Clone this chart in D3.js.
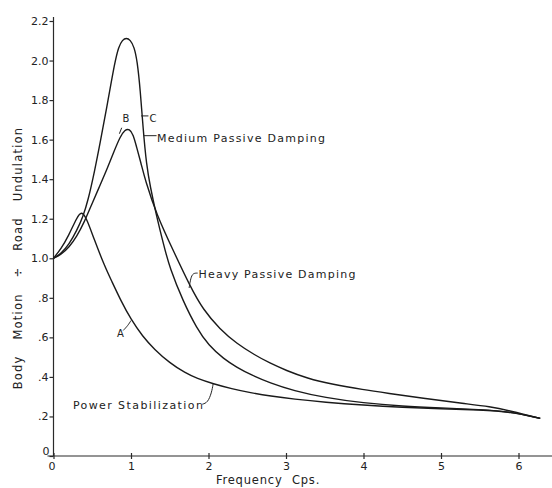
<!DOCTYPE html>
<html lang="en">
<head>
<meta charset="utf-8">
<title>Body Motion vs Frequency</title>
<script src="https://d3js.org/d3.v7.min.js"></script>
<style>
body { margin: 0; background: #fff; }
svg text { font-family: "DejaVu Sans", sans-serif; fill: #222; }
.axis path, .axis line { stroke: #2a2a2a; stroke-width: 1.2; }
.axis text { font-size: 11px; fill: #222; }
.curve { fill: none; stroke: #1a1a1a; stroke-width: 1.4; }
.lead { fill: none; stroke: #222; stroke-width: 1; }
</style>
</head>
<body>
<script>
// curve A - power stabilization
var freqA = [0, 0.1, 0.19, 0.3, 0.36, 0.43, 0.52, 0.66, 0.75, 0.87, 1.0, 1.15, 1.3, 1.5, 1.7, 1.85, 2.06, 2.3, 2.54, 2.8, 3.1, 3.5, 4.0, 4.5, 5.0, 5.5, 5.9, 6.28];
var valA  = [1.0, 1.05, 1.11, 1.205, 1.24, 1.2, 1.1, 0.96, 0.885, 0.785, 0.69, 0.605, 0.54, 0.47, 0.42, 0.392, 0.365, 0.34, 0.32, 0.303, 0.288, 0.272, 0.257, 0.246, 0.239, 0.233, 0.223, 0.19];
// curve B - heavy passive damping
var freqB = [0, 0.1, 0.2, 0.3, 0.4, 0.49, 0.59, 0.69, 0.78, 0.86, 0.92, 0.98, 1.03, 1.07, 1.13, 1.18, 1.33, 1.55, 1.76, 1.93, 2.15, 2.36, 2.6, 2.79, 3.0, 3.27, 3.6, 4.0, 4.3, 4.8, 5.3, 5.63, 5.9, 6.28];
var valB  = [1.0, 1.02, 1.055, 1.11, 1.185, 1.27, 1.36, 1.45, 1.54, 1.615, 1.65, 1.655, 1.625, 1.565, 1.48, 1.4, 1.22, 1.035, 0.86, 0.74, 0.64, 0.57, 0.51, 0.47, 0.433, 0.393, 0.362, 0.335, 0.318, 0.29, 0.265, 0.25, 0.228, 0.19];
// curve C - medium passive damping
var freqC = [0, 0.1, 0.2, 0.3, 0.38, 0.445, 0.535, 0.6, 0.7, 0.79, 0.84, 0.89, 0.94, 0.99, 1.04, 1.08, 1.12, 1.155, 1.2, 1.25, 1.32, 1.42, 1.5, 1.675, 1.85, 2.0, 2.2, 2.36, 2.55, 2.79, 3.1, 3.5, 4.0, 4.5, 5.0, 5.5, 5.9, 6.28];
var valC  = [1.0, 1.025, 1.07, 1.14, 1.21, 1.29, 1.45, 1.58, 1.79, 1.99, 2.07, 2.105, 2.115, 2.105, 2.07, 2.0, 1.85, 1.66, 1.47, 1.36, 1.23, 1.07, 0.95, 0.78, 0.645, 0.56, 0.49, 0.45, 0.41, 0.37, 0.33, 0.295, 0.268, 0.252, 0.243, 0.235, 0.225, 0.19];

var xTicks = [0, 1, 2, 3, 4, 5, 6];
var yTicks = [0, 0.2, 0.4, 0.6, 0.8, 1.0, 1.2, 1.4, 1.6, 1.8, 2.0, 2.2];
var yTickLabels = ["0", ".2", ".4", ".6", ".8", "1.0", "1.2", "1.4", "1.6", "1.8", "2.0", "2.2"];

var width = 552, height = 488;
var svg = d3.select("body").append("svg")
    .attr("width", width)
    .attr("height", height);

var x = d3.scaleLinear().domain([0, 6.4]).range([53.5, 549.5]);
var y = d3.scaleLinear().domain([0, 2.2]).range([456, 21]);

// axes
var xAxis = svg.append("g")
    .attr("class", "axis")
    .attr("transform", "translate(0," + y(0) + ")")
    .call(d3.axisBottom(x).tickValues(xTicks).tickSize(3).tickSizeOuter(0).tickFormat(d3.format("d")));
xAxis.select(".domain").attr("d", "M" + (x(0) - 6) + ",0H" + width);
xAxis.selectAll(".tick line").attr("y1", -3).attr("y2", 3);
xAxis.selectAll(".tick text").attr("dy", "0.55em").attr("y", 8);
xAxis.selectAll(".tick").filter(function(d) { return d === 0; }).select("text").attr("dx", "-2");

var yAxis = svg.append("g")
    .attr("class", "axis")
    .attr("transform", "translate(" + x(0) + ",0)")
    .call(d3.axisLeft(y).tickValues(yTicks).tickSize(4).tickSizeOuter(0)
        .tickFormat(function(d, i) { return yTickLabels[i]; }));
yAxis.select(".domain").attr("d", "M0," + y(0) + "V17");
yAxis.selectAll(".tick text").attr("x", -5);
yAxis.selectAll(".tick").filter(function(d) { return d === 0; }).select("text").attr("dy", "-0.1em").attr("x", -4);

// axis titles
svg.append("text")
    .attr("transform", "translate(22," + 258 + ") rotate(-90)")
    .attr("text-anchor", "middle")
    .style("font-size", "11.5px")
    .style("word-spacing", "11px")
    .style("letter-spacing", "1.2px")
    .text("Body Motion \u00f7 Road Undulation");

svg.append("text")
    .attr("x", 268)
    .attr("y", 484)
    .attr("text-anchor", "middle")
    .style("font-size", "11.5px")
    .style("word-spacing", "5px")
    .style("letter-spacing", "0.8px")
    .text("Frequency Cps.");

// curves - b-spline smooths out reading noise
var line = d3.line()
    .x(function(d) { return x(d[0]); })
    .y(function(d) { return y(d[1]); })
    .curve(d3.curveBasis);

[[freqA, valA], [freqB, valB], [freqC, valC]].forEach(function(s) {
    svg.append("path")
        .attr("class", "curve")
        .attr("d", line(d3.zip(s[0], s[1])));
});

// labels + leaders
function label(txt, fx, fy, len, size) {
    var t = svg.append("text")
        .attr("x", x(fx))
        .attr("y", y(fy))
        .style("font-size", (size || 11) + "px")
        .text(txt);
    if (len) t.attr("textLength", len).attr("lengthAdjust", "spacing");
}
function lead(pts) {
    svg.append("path")
        .attr("class", "lead")
        .attr("d", d3.line().x(function(d) { return x(d[0]); }).y(function(d) { return y(d[1]); })
            .curve(d3.curveBasis)(pts));
}

label("B", 0.89, 1.69, null, 10);
lead([[0.88, 1.66], [0.85, 1.63]]);
label("C", 1.24, 1.69, null, 10);
lead([[1.13, 1.72], [1.225, 1.72]]);

label("Medium Passive Damping", 1.335, 1.59, 168, 11);
lead([[1.16, 1.62], [1.33, 1.62]]);

label("Heavy Passive Damping", 1.87, 0.9, 157, 11);
lead([[1.75, 0.85], [1.77, 0.9], [1.8, 0.925], [1.86, 0.925]]);

label("A", 0.82, 0.6, null, 10);
lead([[0.9, 0.635], [0.96, 0.66], [1.0, 0.685]]);

label("Power Stabilization", 0.25, 0.238, 130, 11);
lead([[1.92, 0.262], [1.99, 0.27], [2.04, 0.32], [2.06, 0.365]]);
</script>
</body>
</html>
